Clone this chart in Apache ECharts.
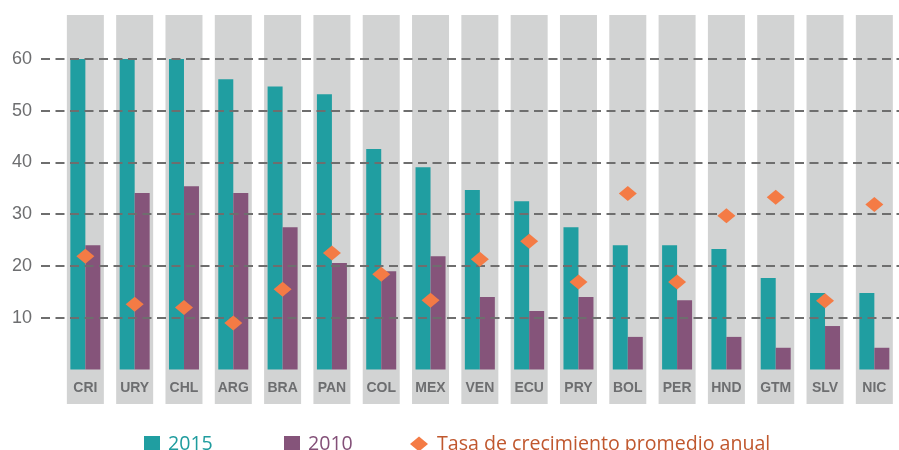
<!DOCTYPE html>
<html>
<head>
<meta charset="utf-8">
<script src="https://cdn.jsdelivr.net/npm/echarts@6/dist/echarts.min.js"></script>
<style>html,body{margin:0;padding:0;background:#fff}#c{width:899px;height:450px}</style>
</head>
<body>
<div id="c"></div>
<script>
const categories = ['CRI','URY','CHL','ARG','BRA','PAN','COL','MEX','VEN','ECU','PRY','BOL','PER','HND','GTM','SLV','NIC'];
const values2015 = [60.3,60.3,60.3,56.1,54.7,53.2,42.6,39.1,34.7,32.5,27.5,24.0,24.0,23.3,17.7,14.8,14.8];
const values2010 = [24.0,34.1,35.4,34.1,27.5,20.6,19.0,21.9,14.0,11.3,14.0,6.3,13.4,6.3,4.2,8.4,4.2];
const growthRate = [21.9,12.6,12.0,9.0,15.5,22.5,18.4,13.4,21.3,24.8,16.9,34.0,16.9,29.7,33.3,13.3,31.9];
const yTicks = [10,20,30,40,50,60];
const seriesNames = ['2015','2010','Tasa de crecimiento promedio anual'];

const chart = echarts.init(document.getElementById('c'), null, {renderer:'canvas'});
const bgData = categories.map(() => 1);
const axisColor = '#6d6e70';
const font = "'Liberation Sans', Arial, sans-serif";
const legendFont = "'Open Sans', 'Noto Sans', sans-serif";

chart.setOption({
  animation: false,
  grid: [
    {left: 60.7, right: -4.2, top: 15, bottom: 46},
    {left: 60.7, right: -4.2, top: 59, bottom: 80.5},
    {left: 41, right: 0, top: 59, bottom: 450 - 317.7}
  ],
  xAxis: [
    {type:'category', gridIndex:0, data: categories, show:false},
    {type:'category', gridIndex:1, data: categories,
      axisLine:{show:false}, axisTick:{show:false},
      axisLabel:{margin:12, fontSize:14, fontWeight:'bold', color:axisColor, fontFamily:font}},
    {type:'category', gridIndex:2, data: categories, show:false}
  ],
  yAxis: [
    {type:'value', gridIndex:0, min:0, max:1, show:false},
    {type:'value', gridIndex:1, min:0, max:60, interval:10, show:false},
    {type:'value', gridIndex:2, min:yTicks[0], max:yTicks[yTicks.length-1], interval:10, z:3,
      axisLine:{show:false}, axisTick:{show:false},
      axisLabel:{margin:9, fontSize:18, color:axisColor, fontFamily:font},
      splitLine:{show:true, lineStyle:{color:'#6e6e6e', width:2, type:[9,5.5]}}}
  ],
  legend: [
    {data:[seriesNames[0]], left:144, top:434, padding:0, itemWidth:16, itemHeight:16, icon:'rect',
      textStyle:{color:'#1f9c9e', fontSize:19.6, fontFamily:legendFont, padding:[0,0,0,3]}},
    {data:[seriesNames[1]], left:284, top:434, padding:0, itemWidth:16, itemHeight:16, icon:'rect',
      textStyle:{color:'#835078', fontSize:19.6, fontFamily:legendFont, padding:[0,0,0,3]}},
    {data:[seriesNames[2]], left:410, top:434, padding:0, itemWidth:18, itemHeight:15, icon:'diamond',
      symbolKeepAspect:false,
      textStyle:{color:'#c0582e', fontSize:19.6, fontFamily:legendFont, padding:[0,0,0,4]}}
  ],
  series: [
    {type:'bar', xAxisIndex:0, yAxisIndex:0, data: bgData, barWidth:37, z:0,
      itemStyle:{color:'#d2d3d3'}, silent:true},
    {name:seriesNames[0], type:'bar', xAxisIndex:1, yAxisIndex:1, data: values2015, barWidth:15, barGap:'0%', z:2,
      itemStyle:{color:'#209ea1'}},
    {name:seriesNames[1], type:'bar', xAxisIndex:1, yAxisIndex:1, data: values2010, barWidth:15, barGap:'0%', z:2,
      itemStyle:{color:'#85547a'}},
    {name:seriesNames[2], type:'scatter', xAxisIndex:1, yAxisIndex:1, data: growthRate, z:4,
      symbol:'diamond', symbolSize:[18,15], itemStyle:{color:'#f47b45', opacity:1}}
  ]
});
</script>
</body>
</html>
